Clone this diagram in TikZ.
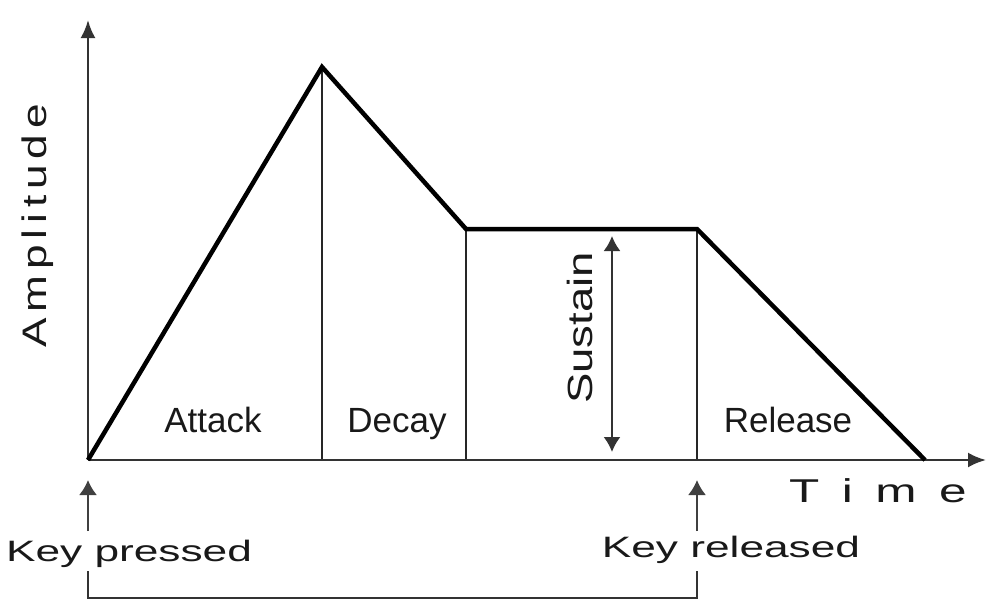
\documentclass[tikz,border=0pt]{standalone}
\usepackage{fontspec}
\setmainfont{Liberation Sans}
\usetikzlibrary{arrows.meta}
\begin{document}
\begin{tikzpicture}[x=1pt,y=-1pt,
  axis/.style={draw=black!80, line width=2.6pt, -{Latex[length=18pt,width=15pt]}},
  env/.style={draw=black, line width=4.5pt, line join=miter},
  divider/.style={draw=black!85, line width=1.8pt},
  keyarrow/.style={draw=black!75, line width=2pt, -{Latex[length=15pt,width=18pt]}},
  susarrow/.style={draw=black!80, line width=2pt, {Latex[length=15pt,width=17pt]}-{Latex[length=15pt,width=17pt]}},
  bracket/.style={draw=black!80, line width=2pt},
  lbl/.style={inner sep=0pt, anchor=base, text=black!90, font=\fontsize{35}{42}\selectfont},
  keylbl/.style={inner sep=0pt, anchor=base, text=black!90, font=\fontsize{29.5}{35}\selectfont}
]
\useasboundingbox (0,0) rectangle (1000,600);
\fill[white] (0,0) rectangle (1000,600);

% key points
\coordinate (O) at (88,460);
\coordinate (ytop) at (88,20);
\coordinate (xend) at (986,460);
\coordinate (P) at (322,67);
\coordinate (S1) at (466,229);
\coordinate (S2) at (697,229);
\coordinate (E) at (925,460);
\coordinate (Pb) at (322,460);
\coordinate (S1b) at (466,460);
\coordinate (S2b) at (697,460);
\coordinate (susT) at (612,236);
\coordinate (susB) at (612,452);
\coordinate (kpA) at (88,531);
\coordinate (kpT) at (88,480);
\coordinate (krA) at (697,531);
\coordinate (krT) at (697,480);
\coordinate (brL) at (88,571);
\coordinate (brLb) at (88,598);
\coordinate (brR) at (697,571);
\coordinate (brRb) at (697,598);

% dividers
\draw[divider] (P) -- (Pb);
\draw[divider] (S1) -- (S1b);
\draw[divider] (S2) -- (S2b);

% axes
\draw[axis] (O) -- (ytop);
\draw[axis] (O) -- (xend);

% envelope
\draw[env] (O) -- (P) -- (S1) -- (S2) -- (E);

% sustain arrow
\draw[susarrow] (susT) -- (susB);

% key arrows
\draw[keyarrow] (kpA) -- (kpT);
\draw[keyarrow] (krA) -- (krT);

% bracket
\draw[bracket] (brL) -- (brLb) -- (brRb) -- (brR);

% labels
\node[lbl] (attack) at (213,432) {Attack};
\node[lbl] (decay) at (397,432) {Decay};
\node[lbl] (release) at (788,432) {Release};
\node[lbl, rotate=90] (sustain) at (592,328) {\scalebox{1.3}[1]{Sustain}};
\node[lbl, font=\fontsize{34}{40}\selectfont, rotate=90] (amp) at (46,226)
  {\scalebox{1.3}[1]{A\hspace{4.5pt}m\hspace{4.5pt}p\hspace{4.5pt}l\hspace{4.5pt}i\hspace{4.5pt}t\hspace{4.5pt}u\hspace{4.5pt}d\hspace{4.5pt}e}};
\node[lbl, font=\fontsize{33}{40}\selectfont, anchor=base west] (time) at (789,502)
  {\scalebox{1.5}[1]{T\hspace{15pt}i\hspace{15pt}m\hspace{15pt}e}};
\node[keylbl] (kp) at (129,561) {\scalebox{1.5}[1]{Key pressed}};
\node[keylbl] (kr) at (731,557) {\scalebox{1.5}[1]{Key released}};
\end{tikzpicture}
\end{document}
